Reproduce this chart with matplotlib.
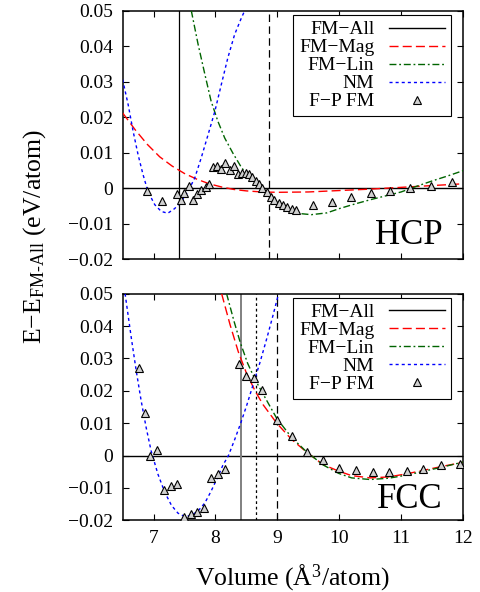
import numpy as np
import matplotlib
matplotlib.use('Agg')
import matplotlib.pyplot as plt

plt.rcParams['font.family'] = ['Liberation Serif', 'DejaVu Serif']
plt.rcParams['mathtext.fontset'] = 'custom'
plt.rcParams['mathtext.rm'] = 'Liberation Serif'
plt.rcParams['mathtext.it'] = 'Liberation Serif:italic'

# ---- HCP panel data (E - E_FM-All, eV/atom) ----
hcp_nm_v = [6.50, 6.59, 6.67, 6.75, 6.83, 6.91, 7.02, 7.125, 7.23, 7.34, 7.45, 7.56,
            7.665, 7.77, 7.88, 7.99, 8.095, 8.20, 8.31, 8.42, 8.47]
hcp_nm_e = [0.0306, 0.0235, 0.0160, 0.0094, 0.0038, -0.0010, -0.0047, -0.0066, -0.0071,
            -0.0058, -0.0038, -0.0008, 0.0028, 0.0085, 0.0150, 0.0216, 0.0292, 0.0367,
            0.0433, 0.0480, 0.0499]

hcp_mag_v = [6.5, 6.7, 6.9, 7.1, 7.3, 7.5, 7.7, 7.9, 8.1, 8.3, 8.5, 8.75, 9.0, 9.5,
             10.0, 10.5, 11.0, 11.5, 12.0]
hcp_mag_e = [0.0212, 0.0165, 0.0123, 0.0088, 0.0062, 0.0041, 0.0025, 0.0012, 0.0003,
             -0.0004, -0.0008, -0.0011, -0.0012, -0.0011, -0.0007, -0.0003, 0.0002,
             0.0007, 0.0012]

hcp_lin_v = [7.61, 7.72, 7.83, 7.93, 8.04, 8.15, 8.28, 8.42, 8.56, 8.67, 8.77, 8.88,
             9.04, 9.20, 9.37, 9.55, 9.80, 10.0, 10.25, 10.5, 10.75, 11.0, 11.25, 11.5,
             11.75, 12.0]
hcp_lin_e = [0.0500, 0.0405, 0.0320, 0.0245, 0.0188, 0.0141, 0.0099, 0.0058, 0.0028,
             0.0009, -0.0006, -0.0024, -0.0047, -0.0064, -0.0072, -0.0075, -0.0070,
             -0.0058, -0.0045, -0.0033, -0.0022, -0.0011, 0.0005, 0.0020, 0.0034, 0.0049]

hcp_fp_v = [6.89, 7.13, 7.38, 7.44, 7.50, 7.57, 7.63, 7.70, 7.76, 7.84, 7.90, 7.96,
            8.03, 8.09, 8.16, 8.23, 8.30, 8.37, 8.43, 8.49, 8.54, 8.59, 8.655, 8.71,
            8.76, 8.83, 8.89, 8.95, 9.02, 9.09, 9.16, 9.23, 9.30, 9.57, 9.88, 10.19,
            10.51, 10.82, 11.15, 11.49, 11.82]
hcp_fp_e = [-0.0008, -0.0037, -0.0017, -0.0033, -0.0015, 0.0005, -0.0033, -0.0018,
            -0.0006, 0.0003, 0.0012, 0.0059, 0.0063, 0.0053, 0.0070, 0.0051, 0.0061,
            0.0040, 0.0043, 0.0042, 0.0040, 0.0031, 0.0021, 0.0012, -0.0001, -0.0012,
            -0.0024, -0.0035, -0.0042, -0.0048, -0.0053, -0.0058, -0.0062, -0.0047,
            -0.0039, -0.0024, -0.0015, -0.0009, -0.0001, 0.0007, 0.0018]

# ---- FCC panel data ----
fcc_nm_v = [6.54, 6.64, 6.72, 6.80, 6.88, 6.96, 7.07, 7.18, 7.29, 7.395, 7.50, 7.61,
            7.72, 7.83, 7.93, 8.04, 8.12, 8.21, 8.31, 8.41, 8.51, 8.61, 8.72, 8.83,
            8.93, 9.02]
fcc_nm_e = [0.0500, 0.0364, 0.0262, 0.0169, 0.0087, 0.0015, -0.0057, -0.0113, -0.0154,
            -0.0178, -0.0188, -0.0185, -0.0171, -0.0146, -0.0110, -0.0065, -0.0030,
            0.0000, 0.0049, 0.0101, 0.0158, 0.0220, 0.0288, 0.0362, 0.0433, 0.0500]

fcc_mag_v = [8.10, 8.235, 8.37, 8.50, 8.64, 8.77, 8.99, 9.23, 9.47, 9.74, 9.99, 10.2,
             10.5, 10.8, 11.1, 11.4, 11.7, 12.0]
fcc_mag_e = [0.0500, 0.0405, 0.0320, 0.0255, 0.0200, 0.0157, 0.0100, 0.0050, 0.0011,
             -0.0028, -0.0048, -0.0062, -0.0069, -0.0066, -0.0056, -0.0044, -0.0032,
             -0.0021]

fcc_lin_v = [8.18, 8.30, 8.40, 8.52, 8.64, 8.77, 8.99, 9.23, 9.47, 9.74, 9.99, 10.2,
             10.5, 10.8, 11.1, 11.4, 11.7, 12.0]
fcc_lin_e = [0.0500, 0.0415, 0.0350, 0.0285, 0.0235, 0.0190, 0.0115, 0.0056, 0.0012,
             -0.0029, -0.0055, -0.0069, -0.0074, -0.0070, -0.0060, -0.0047, -0.0034,
             -0.0020]

fcc_fp_v = [6.76, 6.86, 6.95, 7.06, 7.17, 7.28, 7.38, 7.49, 7.60, 7.71, 7.815, 7.93,
            8.04, 8.15, 8.385, 8.49, 8.62, 8.745, 8.99, 9.23, 9.48, 9.74, 10.0, 10.27,
            10.54, 10.81, 11.09, 11.36, 11.65, 11.95]
fcc_fp_e = [0.0270, 0.0130, 0.0000, 0.0018, -0.0105, -0.0094, -0.0087, -0.0190, -0.0182,
            -0.0174, -0.0163, -0.0069, -0.0058, -0.0041, 0.0283, 0.0246, 0.0239, 0.0203,
            0.0111, 0.0059, 0.0012, -0.0013, -0.0038, -0.0045, -0.0050, -0.0052, -0.0048,
            -0.0040, -0.0030, -0.0026]

# vertical marker lines (volumes)
hcp_vlines = [7.41, 8.87]
fcc_vlines = [8.42, 8.65, 9.0]

yticks = [-0.02, -0.01, 0, 0.01, 0.02, 0.03, 0.04, 0.05]
ytick_labels = ['\u22120.02', '\u22120.01', '0', '0.01', '0.02', '0.03', '0.04', '0.05']
xticks = [7, 8, 9, 10, 11, 12]

fig = plt.figure(figsize=(4.81, 5.92), dpi=100)
ax1 = fig.add_axes([0.2549, 0.5625, 0.7077, 0.4194])
ax2 = fig.add_axes([0.2549, 0.1211, 0.7077, 0.3828])

RED_DASH = (0, (6.5, 3))
LIN_DASH = (0, (5, 2, 1.3, 2))
NM_DASH = (0, (2.2, 2.2))


def draw_panel(ax, nm_v, nm_e, mag_v, mag_e, lin_v, lin_e, fp_v, fp_e):
    ax.axhline(0, color='black', lw=1.0, label='FM\u2212All', zorder=2)
    ax.plot(mag_v, mag_e, color='red', lw=1.0, ls=RED_DASH, label='FM\u2212Mag', zorder=3)
    ax.plot(lin_v, lin_e, color='#006400', lw=1.0, ls=LIN_DASH, label='FM\u2212Lin', zorder=3)
    ax.plot(nm_v, nm_e, color='blue', lw=1.0, ls=NM_DASH, label='NM', zorder=3)
    ax.plot(fp_v, fp_e, ls='none', marker='^', ms=5.5, mfc='#d0d0d0', mec='black',
            mew=0.8, label='F\u2212P FM', zorder=4)

    ax.set_xlim(6.5, 12)
    ax.set_ylim(-0.02, 0.05)
    ax.set_xticks(xticks)
    ax.set_yticks(yticks)
    ax.set_yticklabels(ytick_labels)
    ax.tick_params(direction='in', top=True, right=True, length=4, width=0.8,
                   labelsize=14, pad=7)
    for sp in ax.spines.values():
        sp.set_linewidth(1.1)

    leg = ax.legend(loc='upper right', bbox_to_anchor=(0.965, 0.983), borderaxespad=0,
                    markerfirst=False, fancybox=False, edgecolor='black', framealpha=1,
                    handlelength=2.9, handletextpad=0.75, labelspacing=0.02, borderpad=0.3,
                    fontsize=14)
    leg.get_frame().set_linewidth(0.8)


draw_panel(ax1, hcp_nm_v, hcp_nm_e, hcp_mag_v, hcp_mag_e, hcp_lin_v, hcp_lin_e,
           hcp_fp_v, hcp_fp_e)
draw_panel(ax2, fcc_nm_v, fcc_nm_e, fcc_mag_v, fcc_mag_e, fcc_lin_v, fcc_lin_e,
           fcc_fp_v, fcc_fp_e)

# vertical lines
ax1.axvline(hcp_vlines[0], color='black', lw=0.9, zorder=2)
ax1.axvline(hcp_vlines[1], color='black', lw=0.9, ls=(0, (6, 3.5)), zorder=2)
ax2.axvline(fcc_vlines[0], color='#808080', lw=1.4, zorder=2)
ax2.axvline(fcc_vlines[1], color='black', lw=0.9, ls=(0, (2.2, 2.2)), zorder=2)
ax2.axvline(fcc_vlines[2], color='black', lw=0.9, ls=(0, (6, 3.5)), zorder=2)

ax1.tick_params(labelbottom=False)

ax1.text(0.941, 0.06, 'HCP', transform=ax1.transAxes, ha='right', va='baseline', fontsize=25)
ax2.text(0.941, 0.053, 'FCC', transform=ax2.transAxes, ha='right', va='baseline', fontsize=25)

fig.text(0.608, 0.011, r'Volume ($\mathrm{\AA}^3$/atom)', ha='center', va='baseline', fontsize=18.5)
fig.text(0.072, 0.60, 'E\u2212E$_{\\mathrm{FM\u2010All}}$ (eV/atom)', rotation=90,
         ha='center', va='center', fontsize=18.5)

fig.savefig('out.png', dpi=100)
